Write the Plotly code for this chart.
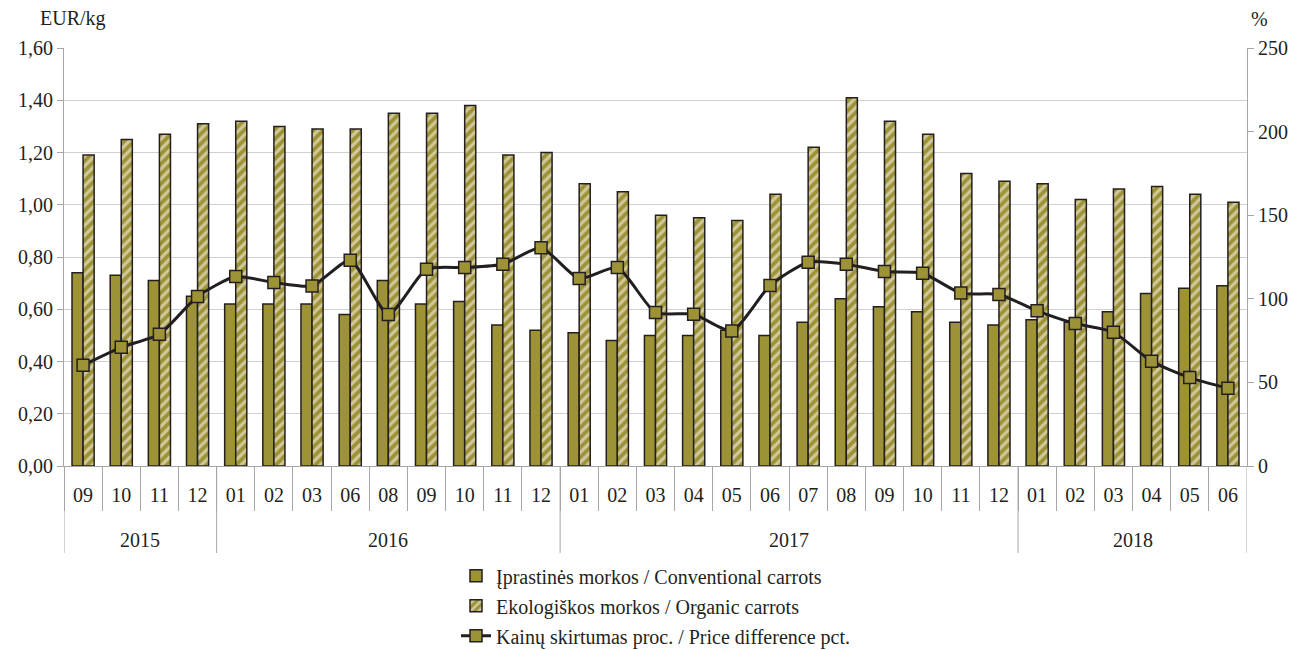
import plotly.graph_objects as go
from plotly.subplots import make_subplots

OLIVE = "#9E9237"
DARK = "#231F20"
GRID = "#D0D0D0"
AXIS = "#A6A6A6"
FONT = "Liberation Serif, Times New Roman, serif"

years = ["2015"] * 4 + ["2016"] * 9 + ["2017"] * 12 + ["2018"] * 6
months = [
    "09", "10", "11", "12",
    "01", "02", "03", "06", "08", "09", "10", "11", "12",
    "01", "02", "03", "04", "05", "06", "07", "08", "09", "10", "11", "12",
    "01", "02", "03", "04", "05", "06",
]

conventional = [
    0.74, 0.73, 0.71, 0.65,
    0.62, 0.62, 0.62, 0.58, 0.71, 0.62, 0.63, 0.54, 0.52,
    0.51, 0.48, 0.50, 0.50, 0.52, 0.50, 0.55, 0.64, 0.61, 0.59, 0.55, 0.54,
    0.56, 0.55, 0.59, 0.66, 0.68, 0.69,
]

organic = [
    1.19, 1.25, 1.27, 1.31,
    1.32, 1.30, 1.29, 1.29, 1.35, 1.35, 1.38, 1.19, 1.20,
    1.08, 1.05, 0.96, 0.95, 0.94, 1.04, 1.22, 1.41, 1.32, 1.27, 1.12, 1.09,
    1.08, 1.02, 1.06, 1.07, 1.04, 1.01,
]

difference_pct = [
    60.3, 71.0, 78.8, 101.4,
    113.3, 109.7, 107.7, 123.1, 90.6, 117.7, 118.7, 120.7, 130.5,
    112.1, 118.7, 91.8, 90.8, 80.8, 107.9, 121.9, 120.7, 116.3, 115.3, 103.4, 102.6,
    92.8, 85.2, 80.0, 62.6, 52.9, 46.5,
]

x = list(range(len(months)))

# year groups: start / end index of each year
groups = []
for i, yr in enumerate(years):
    if not groups or groups[-1][0] != yr:
        groups.append([yr, i, i])
    else:
        groups[-1][2] = i

fig = make_subplots(specs=[[{"secondary_y": True}]])

fig.add_trace(
    go.Bar(
        x=x,
        y=conventional,
        name="Įprastinės morkos / Conventional carrots",
        marker=dict(color=OLIVE, line=dict(color=DARK, width=1.5)),
        legendgroup="a",
    ),
    secondary_y=False,
)

fig.add_trace(
    go.Bar(
        x=x,
        y=organic,
        name="Ekologiškos morkos / Organic carrots",
        marker=dict(
            color=OLIVE,
            line=dict(color=DARK, width=1.5),
            pattern=dict(shape="/", fillmode="overlay", fgcolor="white",
                         size=7, solidity=0.45),
        ),
        legendgroup="b",
    ),
    secondary_y=False,
)

fig.add_trace(
    go.Scatter(
        x=x,
        y=difference_pct,
        name="Kainų skirtumas proc. / Price difference pct.",
        mode="lines+markers",
        line=dict(color=DARK, width=3, shape="spline", smoothing=0.6),
        marker=dict(symbol="square", size=12, color=OLIVE,
                    line=dict(color=DARK, width=1.5)),
        legendgroup="c",
    ),
    secondary_y=True,
)

annotations = [
    dict(text="EUR/kg", x=0, xref="paper", xanchor="center", xshift=9, y=1.0,
         yref="paper", yanchor="bottom", yshift=16, showarrow=False,
         font=dict(family=FONT, size=20)),
    dict(text="%", x=1.0, xref="paper", xanchor="left", xshift=2, y=1.0,
         yref="paper", yanchor="bottom", yshift=16, showarrow=False,
         font=dict(family=FONT, size=20)),
]
shapes = []
for yr, a, b in groups:
    annotations.append(
        dict(text=yr, x=(a + b) / 2, xref="x", y=-0.177, yref="paper",
             yanchor="middle", showarrow=False, font=dict(family=FONT, size=20))
    )
    shapes.append(
        dict(type="line", xref="x", yref="paper", x0=a - 0.5, x1=a - 0.5,
             y0=0, y1=-0.208, line=dict(color=AXIS, width=1))
    )
shapes.append(
    dict(type="line", xref="x", yref="paper", x0=groups[-1][2] + 0.5,
         x1=groups[-1][2] + 0.5, y0=0, y1=-0.208, line=dict(color=AXIS, width=1))
)

# page body has an 8px margin, so the figure is 8px smaller than the window
fig.update_layout(
    width=1288,
    height=642,
    paper_bgcolor="white",
    plot_bgcolor="white",
    separators=", ",
    font=dict(family=FONT, size=20, color="#231F20"),
    barmode="group",
    bargap=0.42,
    bargroupgap=0,
    margin=dict(l=56, r=49, t=40, b=184, autoexpand=False),
    showlegend=True,
    legend=dict(
        x=0.5,
        xanchor="center",
        xref="paper",
        y=0.146,
        yref="container",
        yanchor="top",
        font=dict(family=FONT, size=20),
        tracegroupgap=1,
        bgcolor="rgba(0,0,0,0)",
    ),
    annotations=annotations,
    shapes=shapes,
)

fig.update_xaxes(
    domain=[0, 1],
    range=[-0.5, len(months) - 0.5],
    tickmode="array",
    tickvals=x,
    ticktext=months,
    ticks="",
    ticklabelstandoff=11,
    showline=True,
    linecolor=AXIS,
    showgrid=False,
    zeroline=False,
    automargin=False,
    minor=dict(
        tickmode="array",
        tickvals=[i - 0.5 for i in x],
        ticks="outside",
        ticklen=44,
        tickcolor=AXIS,
        showgrid=False,
    ),
    tickfont=dict(family=FONT, size=20),
)

fig.update_yaxes(
    range=[0, 1.6],
    dtick=0.2,
    tickformat=".2f",
    showgrid=True,
    gridcolor=GRID,
    showline=True,
    linecolor=AXIS,
    ticks="outside",
    ticklen=6,
    tickcolor=AXIS,
    zeroline=False,
    automargin=False,
    tickfont=dict(family=FONT, size=20),
    secondary_y=False,
)

fig.update_yaxes(
    range=[0, 250],
    dtick=50,
    showgrid=False,
    showline=True,
    linecolor=AXIS,
    ticks="outside",
    ticklen=6,
    tickcolor=AXIS,
    zeroline=False,
    automargin=False,
    tickfont=dict(family=FONT, size=20),
    secondary_y=True,
)

fig.write_html("out.html")
